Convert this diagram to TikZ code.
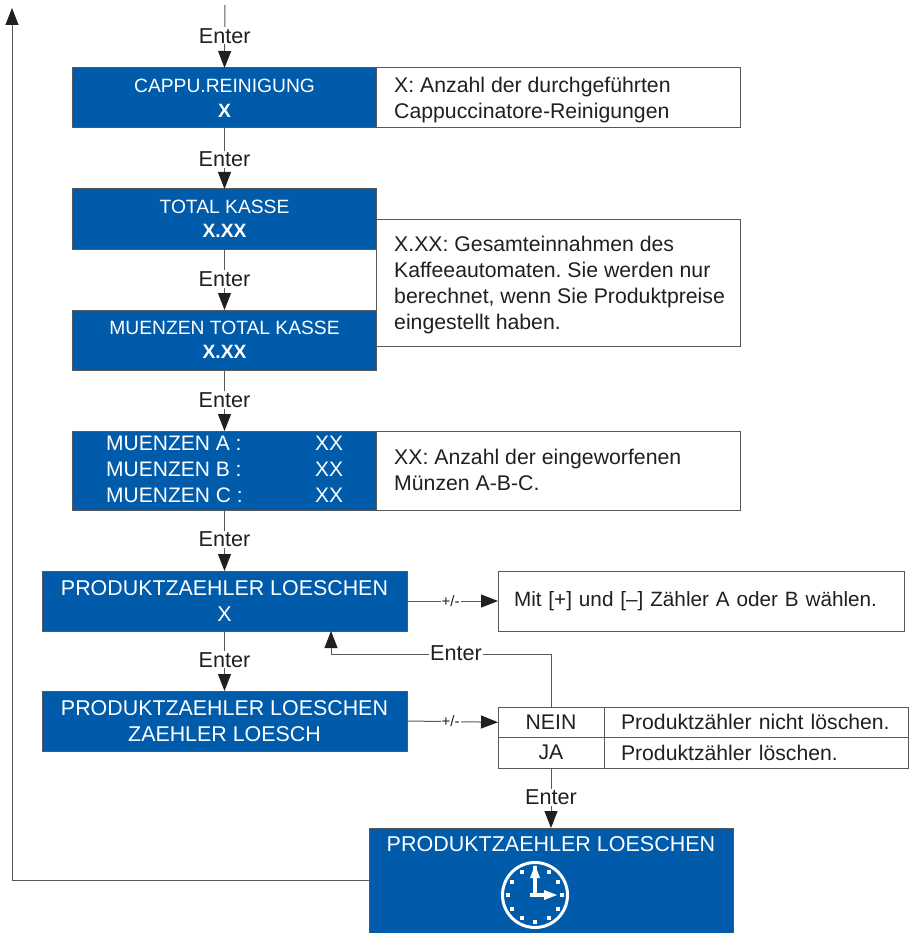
\documentclass[tikz,border=0pt]{standalone}
\usepackage{fontspec}
\setmainfont{Liberation Sans}
\usetikzlibrary{arrows.meta,calc}
\definecolor{boxblue}{HTML}{005BAA}
\definecolor{ink}{HTML}{231F20}
\definecolor{rule}{HTML}{58585A}
\frenchspacing
\tikzset{
  box/.style={draw=rule,line width=1pt,rectangle,inner sep=0pt,outer sep=0pt,anchor=north west},
  bluebox/.style={box,fill=boxblue,text=white,align=center,font=\fontsize{19.25}{24}\selectfont},
  bigblue/.style={bluebox,font=\fontsize{21.4}{26}\selectfont},
  notebox/.style={box,fill=white,text=ink,align=left,font=\fontsize{21.3}{26}\selectfont},
  notetext/.style={anchor=west,text=ink,align=left,inner sep=0pt,font=\fontsize{21.25}{26}\selectfont},
  cell/.style={box,fill=white,text=ink,font=\fontsize{21.2}{24}\selectfont},
  wline/.style={anchor=west,text=white,inner sep=0pt,font=\fontsize{21}{24}\selectfont},
  key/.style={fill=white,text=ink,inner xsep=1pt,inner ysep=1pt,yshift=-1pt,font=\fontsize{21.6}{24}\selectfont},
  smallkey/.style={fill=white,text=ink,inner xsep=1pt,inner ysep=1pt,font=\fontsize{15}{16}\selectfont},
  conn/.style={draw=rule,line width=1pt,-{Triangle[length=17pt,width=13pt,color=ink]}},
  hand/.style={draw=white,line width=4pt},
}
\begin{document}
\begin{tikzpicture}[x=1pt,y=-1pt]
\useasboundingbox (0,0) rectangle (910,933);
\begin{scope}
\clip (0,0) rectangle (910,933);
% boxes
\node[bluebox,minimum width=304pt,minimum height=60pt] (cap) at (72.5,68) {CAPPU.REINIGUNG\\[1pt]\textbf{X}};
\node[notebox,minimum width=364pt,minimum height=60pt] (capn) at (376.5,68) {};
\node[notetext] (capt) at (394,100) {X: Anzahl der durchgeführten\\Cappuccinatore-Reinigungen};
\node[bluebox,minimum width=304pt,minimum height=60pt] (tot) at (72.5,189) {TOTAL KASSE\\\textbf{X.XX}};
\node[notebox,minimum width=364pt,minimum height=127pt] (totn) at (376.5,219.5) {};
\node[notetext] (tott) at (394,285) {X.XX: Gesamteinnahmen des\\Kaffeeautomaten. Sie werden nur\\berechnet, wenn Sie Produktpreise\\eingestellt haben.};
\node[bluebox,minimum width=304pt,minimum height=60pt] (mtot) at (72.5,310) {MUENZEN TOTAL KASSE\\\textbf{X.XX}};
\node[bluebox,minimum width=304pt,minimum height=79pt] (mun) at (72.5,431) {};
\node[wline] (ma) at (106,443) {MUENZEN A :};
\node[wline] (mb) at (106,469) {MUENZEN B :};
\node[wline] (mc) at (106,495) {MUENZEN C :};
\node[wline] (xa) at (315,443) {XX};
\node[wline] (xb) at (315,469) {XX};
\node[wline] (xc) at (315,495) {XX};
\node[notebox,minimum width=364pt,minimum height=79pt] (munn) at (376.5,431) {};
\node[notetext] (munt) at (394,470) {XX: Anzahl der eingeworfenen\\Münzen A-B-C.};
\node[bigblue,minimum width=365pt,minimum height=60pt] (pz) at (42,571) {PRODUKTZAEHLER LOESCHEN\\X};
\node[notebox,minimum width=406pt,minimum height=60pt,text width=374pt,inner xsep=16pt,font=\fontsize{20.7}{24}\selectfont] (pzn) at (498,571) {Mit [+] und [–] Zähler A oder B wählen.};
\node[bigblue,minimum width=365pt,minimum height=60pt] (pzb) at (42,691) {PRODUKTZAEHLER LOESCHEN\\ZAEHLER LOESCH};
\node[cell,minimum width=106pt,minimum height=30.5pt] (nein) at (498,707) {NEIN};
\node[cell,minimum width=304pt,minimum height=30.5pt,text width=270pt,inner xsep=17pt,align=left] (neint) at (604,707) {Produktzähler nicht löschen.};
\node[cell,minimum width=106pt,minimum height=30.5pt] (ja) at (498,737.5) {JA};
\node[cell,minimum width=304pt,minimum height=30.5pt,text width=270pt,inner xsep=17pt,align=left] (jat) at (604,737.5) {Produktzähler löschen.};
\node[box,fill=boxblue,minimum width=364pt,minimum height=110pt] (end) at (369,828) {};
\node[anchor=north,text=white,inner sep=0pt,font=\fontsize{21.5}{24}\selectfont] (endt) at (551,836) {PRODUKTZAEHLER LOESCHEN};
% clock
\coordinate (ck) at (535,895);
\draw[white,line width=3pt] (ck) circle (32.5pt);
\foreach \a in {0,30,...,330}{
  \fill[white] ($(ck)+(\a:27pt)+(-2pt,-2pt)$) rectangle ($(ck)+(\a:27pt)+(2pt,2pt)$);
}
\draw[hand] ($(ck)+(-5,0)$) -- ($(ck)+(10,0)$);
\draw[hand] ($(ck)+(0,2)$) -- ($(ck)+(0,-18)$);
\fill[white] ($(ck)+(22,0)$) -- ($(ck)+(9,-5)$) -- ($(ck)+(9,5)$) -- cycle;
\fill[white] ($(ck)+(0,-30)$) -- ($(ck)+(-5,-17)$) -- ($(ck)+(5,-17)$) -- cycle;
\end{scope}
% connectors
\coordinate (top) at (225,5);
\draw[conn] (top) -- (cap.north) node[key,pos=0.475] (k0) {Enter};
\draw[conn] (cap.south) -- (tot.north) node[key,pos=0.5] (k1) {Enter};
\draw[conn] (tot.south) -- (mtot.north) node[key,pos=0.475] (k2) {Enter};
\draw[conn] (mtot.south) -- (mun.north) node[key,pos=0.475] (k3) {Enter};
\draw[conn] (mun.south) -- (pz.north) node[key,pos=0.465] (k4) {Enter};
\draw[conn] (pz.south) -- (pzb.north) node[key,pos=0.465] (k5) {Enter};
\draw[conn] (pz.east) -- (pzn.west) node[smallkey,pos=0.48] (k6) {+/-};
\draw[conn] (pzb.east) -- (nein.west) node[smallkey,pos=0.48] (k7) {+/-};
\coordinate (fb1) at (551,654);
\coordinate (fb2) at (331,654);
\draw[conn] (nein.north) -- (fb1) -- (fb2) -- (pz.south -| fb2);
\node[key] (k8) at (456,652) {Enter};
\draw[conn] (ja.south) -- (end.north -| ja.south) node[key,pos=0.47] (k9) {Enter};
\coordinate (l1) at (12,880);
\coordinate (l2) at (12,8);
\draw[conn] (end.west |- l1) -- (l1) -- (l2);
\end{tikzpicture}
\end{document}
